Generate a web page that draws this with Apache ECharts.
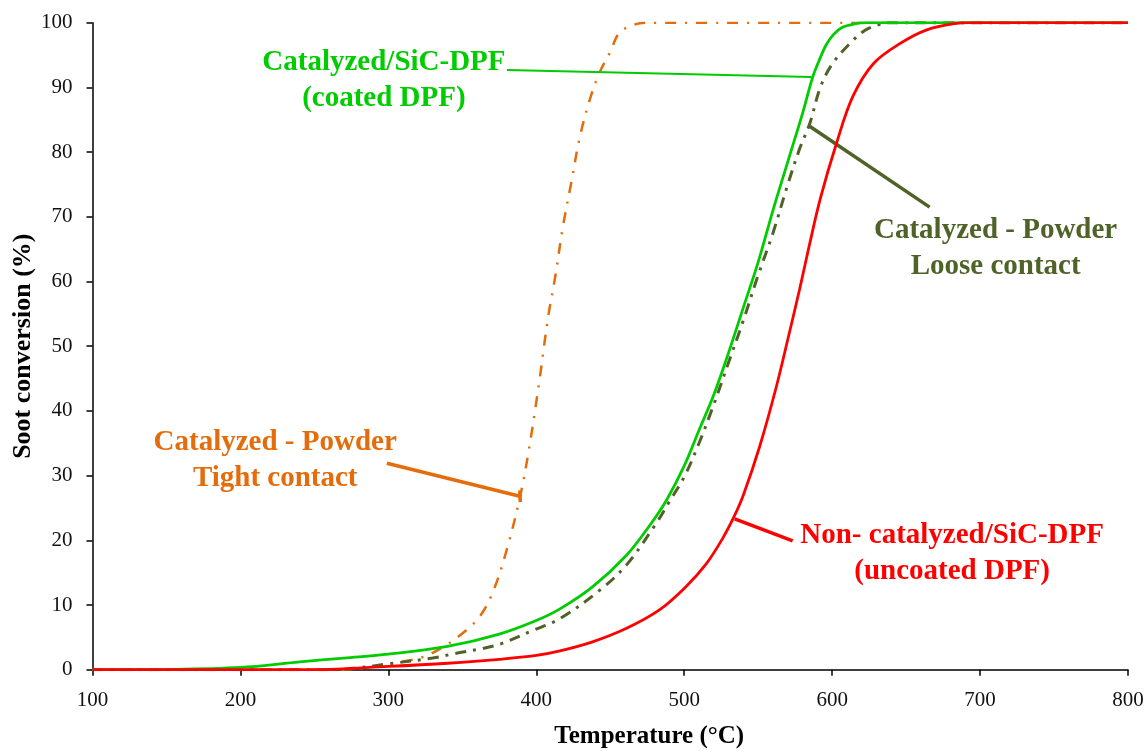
<!DOCTYPE html>
<html>
<head>
<meta charset="utf-8">
<script src="https://cdn.jsdelivr.net/npm/echarts@6/dist/echarts.min.js"></script>
<style>
html, body { margin: 0; padding: 0; background: #fff; }
#chart { width: 1148px; height: 751px; }
</style>
</head>
<body>
<div id="chart"></div>
<script>
// values: temperature (°C) and soot conversion (%)
var coatedTemp = [100, 150, 200, 240, 270, 300, 340, 375, 400, 416, 438, 461, 477, 488, 500, 510, 520, 530, 540, 550, 560, 570, 580, 587, 592, 596, 601, 607, 615, 623, 630, 800];
var coatedConv = [0, 0.05, 0.35, 1.2, 1.8, 2.4, 3.6, 5.5, 7.6, 9.4, 12.8, 17.7, 22.4, 26.2, 31.5, 37, 42.5, 49, 56, 63, 71, 78.5, 86, 91.7, 94.6, 96.6, 98.2, 99.3, 99.8, 100, 100, 100];

var looseTemp = [100, 265, 280, 300, 330, 345, 364, 376, 398, 416, 443, 461, 481, 490, 500, 510, 520, 530, 540, 550, 560, 570, 578, 585, 592, 600, 612, 622, 630, 638, 800];
var looseConv = [0, 0, 0.3, 0.9, 1.8, 2.5, 3.3, 4.0, 6.1, 7.9, 12.3, 16.2, 22.6, 26, 29.8, 35, 41, 47.5, 54, 61, 67.5, 75, 80.5, 84.5, 90, 93.6, 96.8, 98.8, 99.6, 100, 100];

var tightTemp = [100, 270, 281, 296, 308, 324, 339, 350, 362, 371, 380, 389, 395, 402, 408, 413, 418, 424, 429, 436, 443, 450, 456, 465, 475, 800];
var tightConv = [0, 0, 0.2, 0.7, 1.2, 2.0, 3.8, 5.6, 8.3, 12.2, 18.5, 26.7, 34, 44.5, 54.5, 61, 68.5, 75.7, 81.9, 88, 92.4, 95.5, 98.4, 99.6, 100, 100];

var uncoatedTemp = [100, 250, 300, 340, 375, 400, 416, 438, 461, 483, 501, 515, 526, 534, 540, 551, 562, 571, 578, 584, 592, 603, 614, 628, 646, 664, 684, 692, 800];
var uncoatedConv = [0, 0, 0.5, 1.0, 1.6, 2.2, 2.9, 4.3, 6.4, 9.2, 12.8, 16.4, 20.3, 23.8, 27, 34.5, 43.5, 52, 58.8, 65, 72.8, 81.4, 88.6, 93.7, 96.8, 98.9, 99.9, 100, 100];

var labels = {
    coated: 'Catalyzed/SiC-DPF\n(coated DPF)',
    loose: 'Catalyzed - Powder\nLoose contact',
    tight: 'Catalyzed - Powder\nTight contact',
    uncoated: 'Non- catalyzed/SiC-DPF\n(uncoated DPF)'
};

var serif = '"Liberation Serif", "Times New Roman", serif';

function zip(xs, ys) {
    return xs.map(function (x, i) { return [x, ys[i]]; });
}

function leader(color, width, segs) {
    return {
        silent: true,
        symbol: ['none', 'none'],
        label: { show: false },
        lineStyle: { color: color, width: width, type: 'solid' },
        data: segs.map(function (s) {
            return [{ coord: s[0] }, { coord: s[1] }];
        })
    };
}

var myChart = echarts.init(document.getElementById('chart'));

myChart.setOption({
    animation: false,
    backgroundColor: '#fff',
    grid: { left: 92.5, right: 20, top: 22.7, bottom: 81.3, containLabel: false, outerBoundsMode: 'none' },
    xAxis: {
        type: 'value', min: 100, max: 800, interval: 100,
        name: 'Temperature (°C)', nameLocation: 'middle', nameGap: 54, nameMoveOverlap: false,
        nameTextStyle: { fontFamily: serif, fontWeight: 'bold', fontSize: 25, color: '#000', padding: [0, 0, 0, 78] },
        axisLine: { show: true, lineStyle: { color: '#000', width: 1.5 } },
        axisTick: { show: true, inside: false, length: 6, lineStyle: { color: '#000', width: 1.5 } },
        axisLabel: { fontFamily: serif, fontSize: 21, color: '#111', margin: 20 },
        splitLine: { show: false }
    },
    yAxis: {
        type: 'value', min: 0, max: 100, interval: 10,
        name: 'Soot conversion (%)', nameLocation: 'middle', nameGap: 56, nameMoveOverlap: false,
        nameTextStyle: { fontFamily: serif, fontWeight: 'bold', fontSize: 26, color: '#000' },
        axisLine: { show: true, lineStyle: { color: '#000', width: 1.5 } },
        axisTick: { show: true, inside: false, length: 6, lineStyle: { color: '#000', width: 1.5 } },
        axisLabel: { fontFamily: serif, fontSize: 21, color: '#111', margin: 20 },
        splitLine: { show: false }
    },
    series: [
        {
            name: 'tight', type: 'line', showSymbol: false, smooth: 0.35, z: 2,
            data: zip(tightTemp, tightConv),
            lineStyle: { color: '#E46C0A', width: 2.5, type: [11, 9, 2, 9] },
            markLine: leader('#E46C0A', 3.5, [
                [[299, 31.9], [388.9, 26.8]],
                [[388.8, 27.7], [389.2, 25.9]]
            ])
        },
        {
            name: 'loose', type: 'line', showSymbol: false, smooth: 0.35, z: 3,
            data: zip(looseTemp, looseConv),
            lineStyle: { color: '#4F6228', width: 3, type: [11, 7, 3, 7] },
            markLine: leader('#4F6228', 3.5, [
                [[584.8, 84.0], [665.9, 71.5]]
            ])
        },
        {
            name: 'coated', type: 'line', showSymbol: false, smooth: 0.35, z: 4,
            data: zip(coatedTemp, coatedConv),
            lineStyle: { color: '#00CC00', width: 2.8 },
            markLine: leader('#00CC00', 2, [
                [[380.1, 92.7], [586.1, 91.6]]
            ])
        },
        {
            name: 'uncoated', type: 'line', showSymbol: false, smooth: 0.35, z: 5,
            data: zip(uncoatedTemp, uncoatedConv),
            lineStyle: { color: '#FF0000', width: 2.8 },
            markLine: leader('#FF0000', 3.5, [
                [[534.1, 23.3], [573.3, 19.9]]
            ])
        }
    ]
});

// annotation texts, placed in data space
var notes = [
    { text: labels.coated, at: [297, 91.1], color: '#00CC00' },
    { text: labels.loose, at: [710.5, 65.1], color: '#4F6228' },
    { text: labels.tight, at: [223.5, 32.4], color: '#E46C0A' },
    { text: labels.uncoated, at: [681.1, 17.9], color: '#FF0000' }
];

myChart.setOption({
    graphic: notes.map(function (n) {
        var p = myChart.convertToPixel({ gridIndex: 0 }, n.at);
        return {
            type: 'text', x: p[0], y: p[1], silent: true,
            style: {
                text: n.text, fill: n.color,
                font: 'bold 29px ' + serif,
                align: 'center', verticalAlign: 'middle', lineHeight: 36
            }
        };
    })
});
</script>
</body>
</html>
